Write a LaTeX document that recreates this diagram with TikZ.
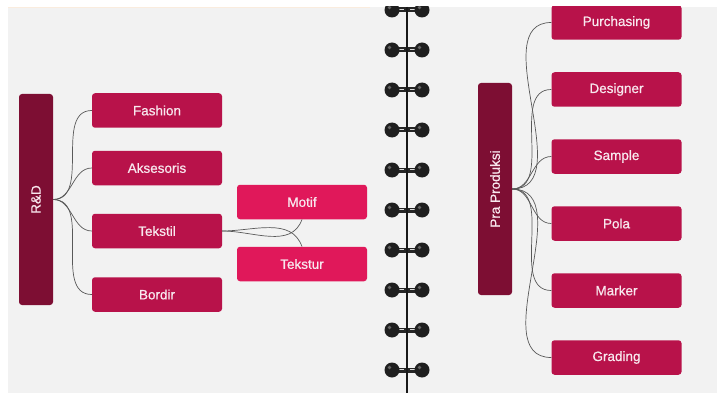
\documentclass[tikz,border=0pt]{standalone}
\usepackage{fontspec}
\setmainfont{Liberation Sans}
\newfontfamily\boxfont[FakeBold=0.7]{Liberation Sans}
\usetikzlibrary{ % tikz packages
    positioning
}
\definecolor{pagegrey}{HTML}{F2F2F2}
\definecolor{rootred}{HTML}{7D0E33}
\definecolor{itemred}{HTML}{B8124A}
\definecolor{subred}{HTML}{E0185A}
\definecolor{labelwhite}{HTML}{F8E8EE}
\tikzset{
    rootbox/.style={
        fill=rootred, rounded corners=3pt, minimum width=34pt,
        text=labelwhite, font=\boxfont\fontsize{13.5}{15}\selectfont, inner sep=0pt
    },
    itembox/.style={
        fill=itemred, rounded corners=3pt, minimum width=130pt,
        minimum height=34.5pt, text=labelwhite,
        font=\boxfont\fontsize{13.5}{15}\selectfont, inner sep=0pt
    },
    subbox/.style={itembox, fill=subred},
    branch/.style={draw=black!65, line width=0.7pt}
}
\begin{document}
\begin{tikzpicture}[x=1pt,y=-1pt,node distance=67pt,on grid]
    \useasboundingbox (0,0) rectangle (717,393);
    \fill[pagegrey] (8,7) rectangle (717,393);
    \draw[color={rgb,255:red,250;green,236;blue,222}, line width=1.5pt] (8,7.5) -- (370,7.5);

    \begin{scope}
        \clip (8,7) rectangle (717,393);

        % left page
        \node[rootbox, minimum height=211pt] (rd) at (36,199.5) {\rotatebox{90}{R\&D}};
        \node[itembox] (fashion) at (157,110.5) {Fashion};
        \node[itembox] (aksesoris) [below=57.5pt of fashion] {Aksesoris};
        \node[itembox] (tekstil) [below=63pt of aksesoris] {Tekstil};
        \node[itembox] (bordir) [below=63.5pt of tekstil] {Bordir};
        \node[subbox] (motif) at (302,202) {Motif};
        \node[subbox] (tekstur) [below=62pt of motif] {Tekstur};

        \path[branch]
            (rd.east) edge[out=0,in=180] (fashion.west)
            (rd.east) edge[out=0,in=180] (aksesoris.west)
            (rd.east) edge[out=0,in=180] (tekstil.west)
            (rd.east) edge[out=0,in=180] (bordir.west)
            (tekstil.east) edge[out=0,in=-110] (motif.south)
            (tekstil.east) edge[out=0,in=110] (tekstur.north);

        % spiral binding
        \foreach \y in {10,50,...,370} {
            \draw[line width=5pt, black!85] (392,\y) -- (422,\y);
            \draw[white!85!black, line width=1.2pt] (398,\y-0.5) -- (404,\y-0.5)
                (410,\y-0.5) -- (416,\y-0.5);
            \fill[black!88] (392,\y) circle (7.5pt);
            \fill[black!88] (422,\y) circle (7.5pt);
            \fill[black!60] (389.5,\y-2.5) circle (1.8pt);
            \fill[black!60] (419.5,\y-2.5) circle (1.8pt);
        }
        \draw[line width=2.5pt, black!90] (407,7) -- (407,393);

        % right page
        \node[rootbox, minimum height=212pt] (praproduksi) at (495,189) {\rotatebox{90}{Pra Produksi}};
        \node[itembox] (purchasing) at (616.5,22.5) {Purchasing};
        \node[itembox] (designer) [below=of purchasing] {Designer};
        \node[itembox] (sample) [below=of designer] {Sample};
        \node[itembox] (pola) [below=of sample] {Pola};
        \node[itembox] (marker) [below=of pola] {Marker};
        \node[itembox] (grading) [below=of marker] {Grading};

        \path[branch]
            (praproduksi.east) edge[out=0,in=180] (purchasing.west)
            (praproduksi.east) edge[out=0,in=180] (designer.west)
            (praproduksi.east) edge[out=0,in=180] (sample.west)
            (praproduksi.east) edge[out=0,in=180] (pola.west)
            (praproduksi.east) edge[out=0,in=180] (marker.west)
            (praproduksi.east) edge[out=0,in=180] (grading.west);
    \end{scope}
\end{tikzpicture}
\end{document}
